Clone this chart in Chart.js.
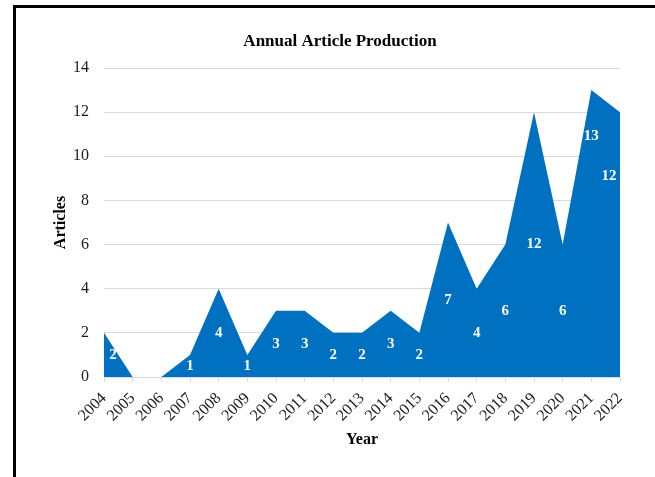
<!DOCTYPE html>
<html>
<head>
<meta charset="utf-8">
<script src="https://cdn.jsdelivr.net/npm/chart.js@4.4.1/dist/chart.umd.min.js"></script>
<style>
  html, body { margin: 0; padding: 0; background: #fff; }
  #wrap { position: relative; width: 655px; height: 477px; overflow: hidden; }
  #frame { position: absolute; left: 13px; top: 5px; right: -10px; bottom: -10px;
           border-left: 3px solid #000; border-top: 3px solid #000; }
  canvas { position: absolute; left: 0; top: 0; }
</style>
</head>
<body>
<div id="wrap">
  <div id="frame"></div>
  <canvas id="chart" width="655" height="477"></canvas>
</div>
<script>
// Articles published per year
const years = ['2004', '2005', '2006', '2007', '2008', '2009', '2010', '2011', '2012', '2013',
               '2014', '2015', '2016', '2017', '2018', '2019', '2020', '2021', '2022'];
const articles = [2, 0, 0, 1, 4, 1, 3, 3, 2, 2, 3, 2, 7, 4, 6, 12, 6, 13, 12];
const yTickValues = [0, 2, 4, 6, 8, 10, 12, 14];

// Value labels sit at half the area height unless a year says otherwise
const labelLift = { '2021': 0.84, '2022': 0.76 };
const labelShift = { '2004': 9, '2022': -11 };

const SERIF = '"Liberation Serif", "Times New Roman", serif';
const BLUE = '#0070C0';
const GRID = '#d9d9d9';

const overlay = {
  id: 'overlay',
  afterDatasetsDraw(chart) {
    const { ctx } = chart;
    const xs = chart.scales.x, ys = chart.scales.y;
    ctx.save();
    ctx.fillStyle = '#ffffff';
    ctx.font = 'bold 15px ' + SERIF;
    ctx.textAlign = 'center';
    ctx.textBaseline = 'middle';
    articles.forEach((v, i) => {
      if (!v) return;
      const yr = years[i];
      const lift = labelLift[yr] !== undefined ? labelLift[yr] : 0.5;
      const x = xs.getPixelForValue(i) + (labelShift[yr] || 0);
      const y = ys.getPixelForValue(v * lift);
      ctx.fillText(String(v), x, y);
    });
    ctx.restore();
  },
  afterDraw(chart) {
    const { ctx } = chart;
    ctx.save();
    ctx.fillStyle = '#000';
    ctx.font = 'bold 17px ' + SERIF;
    ctx.textAlign = 'center';
    ctx.textBaseline = 'middle';
    ctx.fillText('Annual Article Production', 340, 42);
    ctx.restore();
  }
};

new Chart(document.getElementById('chart'), {
  type: 'line',
  data: {
    labels: years,
    datasets: [{
      label: 'Articles',
      data: articles,
      fill: 'origin',
      backgroundColor: BLUE,
      borderWidth: 0,
      borderColor: BLUE,
      pointRadius: 0,
      pointHoverRadius: 0,
      tension: 0
    }]
  },
  options: {
    responsive: false,
    animation: false,
    devicePixelRatio: 1,
    layout: { padding: { left: 38, right: 35, top: 68, bottom: 20 } },
    plugins: { legend: { display: false }, tooltip: { enabled: false }, title: { display: false } },
    scales: {
      x: {
        type: 'category',
        offset: false,
        afterFit(scale) { scale.height = 80; },
        grid: { display: true, drawOnChartArea: false, drawTicks: true, tickLength: 5, color: GRID },
        border: { display: true, color: GRID },
        ticks: {
          autoSkip: false, minRotation: 45, maxRotation: 45, padding: 7,
          color: '#1a1a1a', font: { family: SERIF, size: 16 }
        },
        title: {
          display: true, text: 'Year', color: '#000',
          font: { family: SERIF, size: 16, weight: 'bold' },
          padding: { top: 0, bottom: 8 }
        }
      },
      y: {
        min: 0, max: 14,
        afterFit(scale) { scale.width = 66; },
        afterBuildTicks(scale) { scale.ticks = yTickValues.map(v => ({ value: v })); },
        grid: { color: GRID, drawTicks: false },
        border: { display: false },
        ticks: { padding: 15, color: '#1a1a1a', font: { family: SERIF, size: 16 } },
        title: {
          display: true, text: 'Articles', color: '#000',
          font: { family: SERIF, size: 16, weight: 'bold' },
          padding: { top: 13, bottom: 0 }
        }
      }
    }
  },
  plugins: [overlay]
});
</script>
</body>
</html>
